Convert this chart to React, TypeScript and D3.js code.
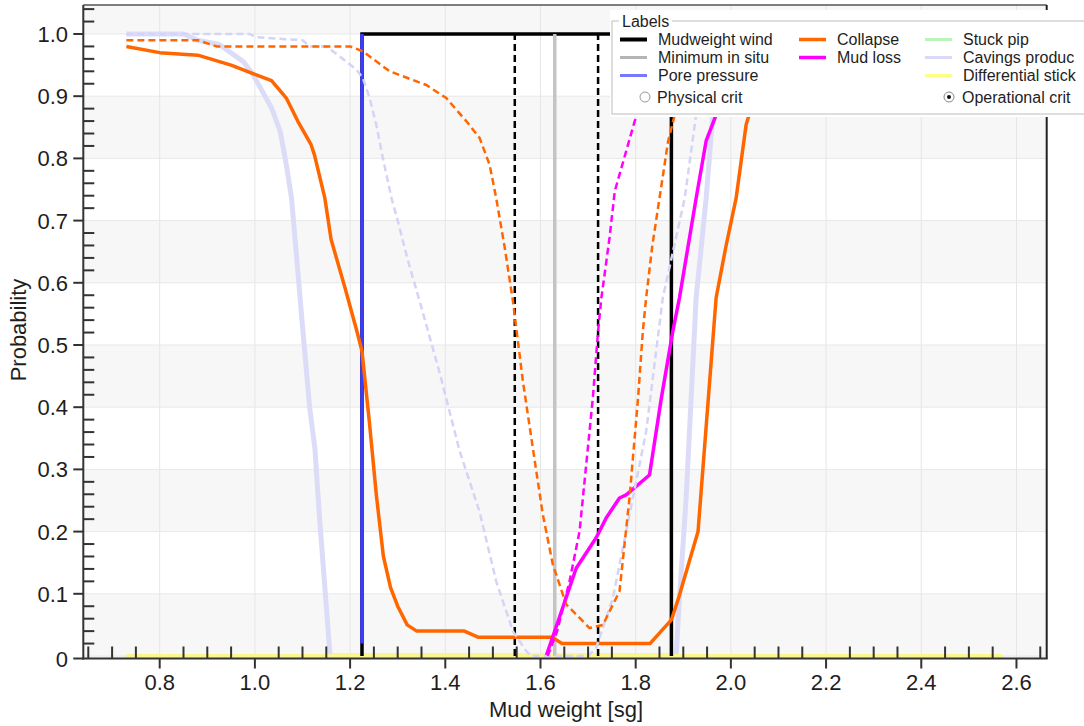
import React from "react";
import * as d3 from "d3";

const width = 1084;
const height = 726;
const font = "'Liberation Sans', Arial, sans-serif";

// axis ticks
const xMajorTicks = [0.8, 1.0, 1.2, 1.4, 1.6, 1.8, 2.0, 2.2, 2.4, 2.6];
const xTickLabels = ["0.8", "1.0", "1.2", "1.4", "1.6", "1.8", "2.0", "2.2", "2.4", "2.6"];
const yMajorTicks = [0, 0.1, 0.2, 0.3, 0.4, 0.5, 0.6, 0.7, 0.8, 0.9, 1.0];
const yTickLabels = ["0", "0.1", "0.2", "0.3", "0.4", "0.5", "0.6", "0.7", "0.8", "0.9", "1.0"];

// vertical markers (mud weight, sg)
const mudWindow = [1.225, 1.875];
const mudWindowPhysical = [1.546, 1.721];
const minInSitu = 1.63;
const porePressure = 1.225;

// operational criteria (solid)
const collapseOp: [number, number][] = [
  [0.73, 0.98], [0.8, 0.97], [0.88, 0.966], [0.95, 0.95], [1.0, 0.935], [1.035, 0.925],
  [1.066, 0.897], [1.09, 0.86], [1.118, 0.822], [1.125, 0.806], [1.147, 0.736], [1.16, 0.67],
  [1.19, 0.59], [1.215, 0.52], [1.225, 0.49], [1.24, 0.38], [1.255, 0.26], [1.27, 0.16],
  [1.285, 0.11], [1.3, 0.08], [1.32, 0.05], [1.34, 0.04], [1.44, 0.04], [1.47, 0.03],
  [1.625, 0.03], [1.645, 0.02], [1.83, 0.02], [1.875, 0.058], [1.89, 0.093], [1.931, 0.2],
  [1.969, 0.576], [1.99, 0.66], [2.011, 0.736], [2.032, 0.854], [2.05, 0.9], [2.1, 0.97],
  [2.2, 0.995], [2.57, 1.0],
];
const mudLossOp: [number, number][] = [
  [1.612, 0], [1.675, 0.141], [1.717, 0.19], [1.738, 0.222], [1.766, 0.254], [1.78, 0.259],
  [1.829, 0.291], [1.854, 0.415], [1.878, 0.522], [1.892, 0.576], [1.927, 0.736],
  [1.948, 0.828], [1.969, 0.87], [2.03, 0.97], [2.1, 1.0], [2.57, 1.0],
];
const cavingsOp: [number, number][] = [
  [0.73, 1.0], [0.85, 1.0], [0.88, 0.99], [0.925, 0.983], [0.975, 0.956], [0.995, 0.936],
  [1.035, 0.881], [1.053, 0.844], [1.066, 0.79], [1.077, 0.736], [1.086, 0.656], [1.1, 0.53],
  [1.115, 0.4], [1.126, 0.334], [1.136, 0.22], [1.147, 0.11], [1.155, 0.03], [1.158, 0],
  [1.885, 0], [1.892, 0.093], [1.906, 0.254], [1.92, 0.468], [1.927, 0.576], [1.948, 0.736],
  [1.962, 0.87], [2.0, 0.97], [2.1, 1.0], [2.57, 1.0],
];
const stuckPipe: [number, number][] = [[0.73, 0], [2.57, 0]];
const differentialStick: [number, number][] = [[0.73, 0], [2.57, 0]];

// physical criteria (dashed)
const collapsePhys: [number, number][] = [
  [0.73, 0.99], [0.88, 0.99], [0.92, 0.98], [1.2, 0.98], [1.227, 0.972], [1.283, 0.94],
  [1.36, 0.918], [1.402, 0.897], [1.444, 0.86], [1.472, 0.833], [1.493, 0.79], [1.507, 0.736],
  [1.525, 0.656], [1.542, 0.571], [1.563, 0.442], [1.584, 0.334], [1.605, 0.227],
  [1.626, 0.147], [1.654, 0.083], [1.703, 0.045], [1.731, 0.05], [1.766, 0.104],
  [1.787, 0.254], [1.805, 0.415], [1.815, 0.522], [1.822, 0.576], [1.835, 0.66],
  [1.85, 0.736], [1.868, 0.827], [1.882, 0.87], [1.92, 0.96], [2.0, 1.0], [2.57, 1.0],
];
const mudLossPhys: [number, number][] = [
  [1.615, 0], [1.635, 0.04], [1.661, 0.12], [1.682, 0.2], [1.696, 0.307], [1.71, 0.415],
  [1.721, 0.522], [1.728, 0.576], [1.745, 0.672], [1.756, 0.747], [1.798, 0.86],
  [1.85, 0.95], [1.95, 1.0], [2.57, 1.0],
];
const cavingsPhys: [number, number][] = [
  [0.73, 1.0], [0.99, 1.0], [1.0, 0.995], [1.1, 0.99], [1.115, 0.98], [1.15, 0.98],
  [1.178, 0.964], [1.213, 0.943], [1.227, 0.929], [1.241, 0.897], [1.255, 0.854],
  [1.269, 0.8], [1.287, 0.736], [1.3, 0.7], [1.32, 0.64], [1.35, 0.56], [1.39, 0.45],
  [1.43, 0.33], [1.472, 0.232], [1.507, 0.12], [1.542, 0.04], [1.57, 0.008], [1.58, 0],
  [1.7, 0], [1.717, 0.013], [1.752, 0.093], [1.787, 0.227], [1.822, 0.361], [1.857, 0.576],
  [1.903, 0.736], [1.927, 0.87], [1.96, 0.96], [2.0, 1.0], [2.57, 1.0],
];

const legendRows = [
  { label: "Mudweight wind", color: "#000000", w: 4, col: 0, row: 0 },
  { label: "Minimum in situ", color: "#b4b4b4", w: 3, col: 0, row: 1 },
  { label: "Pore pressure", color: "#7878ff", w: 3, col: 0, row: 2 },
  { label: "Collapse", color: "#ff6a00", w: 3.5, col: 1, row: 0 },
  { label: "Mud loss", color: "#ff00ff", w: 3.5, col: 1, row: 1 },
  { label: "Stuck pip", color: "#b8f5b8", w: 3, col: 2, row: 0 },
  { label: "Cavings produc", color: "#dadaf7", w: 3, col: 2, row: 1 },
  { label: "Differential stick", color: "#ffff80", w: 3, col: 2, row: 2 },
];
const legendColX = [620, 799, 925];

const x = d3.scaleLinear().domain([0.6395, 2.6635]).range([83.3, 1046.7]);
const y = d3.scaleLinear().domain([0, 1.0466]).range([656, 5]);
const axisY = 658.5;

const line = d3
  .line<[number, number]>()
  .x((d) => x(d[0]))
  .y((d) => y(d[1]));

const xMinorTicks = d3
  .range(13, 54)
  .map((i) => i * 0.05)
  .filter((v) => !xMajorTicks.some((m) => Math.abs(m - v) < 1e-6) && v < 2.663);
const yMinorTicks = d3
  .range(1, 53)
  .map((i) => i * 0.02)
  .filter((v) => !yMajorTicks.some((m) => Math.abs(m - v) < 1e-6));
const bands = d3.range(0, 11).map((i) => [i * 0.1, Math.min((i + 1) * 0.1, 1.0466)]);

const dash = "7,4";

const App = () => {
  const [x0, x1] = x.range();
  const y1 = y.range()[1];
  return (
    <svg
      width={width}
      height={height}
      style={{ position: "absolute", left: 0, top: 0, background: "#fff" }}
      fontFamily={font}
    >
      {bands.map(([a, b], i) => (
        <rect
          key={i}
          x={x0}
          y={y(b)}
          width={x1 - x0}
          height={(i === 0 ? axisY : y(a)) - y(b)}
          fill={i % 2 === 0 ? "#f7f7f7" : "#ffffff"}
        />
      ))}
      {xMajorTicks.map((t) => (
        <line key={t} x1={x(t)} x2={x(t)} y1={y1} y2={axisY} stroke="#e6e6e6" strokeWidth={1} />
      ))}
      {yMajorTicks.map((t) => (
        <line key={t} x1={x0} x2={x1} y1={y(t)} y2={y(t)} stroke="#e8e8e8" strokeWidth={1} />
      ))}

      {/* operational curves */}
      <path d={line(stuckPipe)!} fill="none" stroke="#b8f5b8" strokeWidth={4} />
      <path d={line(cavingsOp)!} fill="none" stroke="#dcdcf8" strokeWidth={5} strokeLinejoin="round" />
      <path d={line(differentialStick)!} fill="none" stroke="#fbf78c" strokeWidth={4} />

      {/* markers */}
      <path
        d={line([[mudWindow[0], 0], [mudWindow[0], 1], [mudWindow[1], 1], [mudWindow[1], 0]])!}
        fill="none"
        stroke="#000"
        strokeWidth={3.5}
      />
      <line x1={x(minInSitu)} x2={x(minInSitu)} y1={y(0)} y2={y(1)} stroke="#c4c4c4" strokeWidth={3.5} />
      <line x1={x(porePressure)} x2={x(porePressure)} y1={y(0.02)} y2={y(1)} stroke="#3c3cff" strokeWidth={3.5} />
      {mudWindowPhysical.map((v) => (
        <line key={v} x1={x(v)} x2={x(v)} y1={y(0)} y2={y(1)} stroke="#000" strokeWidth={2.5} strokeDasharray="7,4" />
      ))}

      <path d={line(collapseOp)!} fill="none" stroke="#ff6600" strokeWidth={3.5} strokeLinejoin="round" />
      <path d={line(mudLossOp)!} fill="none" stroke="#ff00ff" strokeWidth={3.5} strokeLinejoin="round" />

      {/* physical curves */}
      <path d={line(cavingsPhys)!} fill="none" stroke="#d4d4f6" strokeWidth={2.5} strokeDasharray={dash} />
      <path d={line(collapsePhys)!} fill="none" stroke="#ff6600" strokeWidth={2.5} strokeDasharray={dash} />
      <path d={line(mudLossPhys)!} fill="none" stroke="#ff00ff" strokeWidth={2.5} strokeDasharray={dash} />

      {/* frame */}
      <line x1={x0} x2={x1} y1={y1} y2={y1} stroke="#555" strokeWidth={1.5} />
      <line x1={x1} x2={x1} y1={y1} y2={axisY} stroke="#222" strokeWidth={2} />
      <line x1={x0} x2={x0} y1={y1} y2={axisY + 1} stroke="#333" strokeWidth={2} />
      <line x1={x0 - 1} x2={x1 + 1} y1={axisY} y2={axisY} stroke="#333" strokeWidth={2} />

      {/* x axis */}
      {xMajorTicks.map((t, i) => (
        <g key={t}>
          <line x1={x(t)} x2={x(t)} y1={axisY} y2={axisY + 10} stroke="#333" strokeWidth={2} />
          <text x={x(t)} y={690} textAnchor="middle" fontSize={22} fill="#1e1e1e">
            {xTickLabels[i]}
          </text>
        </g>
      ))}
      {xMinorTicks.map((t) => (
        <line key={t} x1={x(t)} x2={x(t)} y1={axisY} y2={axisY - 12} stroke="#333" strokeWidth={2} />
      ))}
      <text x={566} y={717} textAnchor="middle" fontSize={22} fill="#1e1e1e">
        Mud weight [sg]
      </text>

      {/* y axis */}
      {yMajorTicks.map((t, i) => (
        <g key={t}>
          <line x1={x0 - 10} x2={x0} y1={i === 0 ? axisY : y(t)} y2={i === 0 ? axisY : y(t)} stroke="#333" strokeWidth={2} />
          <text x={68} y={(i === 0 ? axisY : y(t)) + 8} textAnchor="end" fontSize={22} fill="#1e1e1e">
            {yTickLabels[i]}
          </text>
        </g>
      ))}
      {yMinorTicks.map((t) => (
        <line key={t} x1={x0} x2={x0 + 11} y1={y(t)} y2={y(t)} stroke="#333" strokeWidth={2} />
      ))}
      <text
        transform="translate(26, 330) rotate(-90)"
        textAnchor="middle"
        fontSize={22}
        fill="#1e1e1e"
      >
        Probability
      </text>

      {/* legend */}
      <rect x={610} y={10} width={480} height={107} fill="#fff" />
      <rect x={612} y={21} width={480} height={93} fill="none" stroke="#bdbdbd" strokeWidth={1} />
      <rect x={619} y={15} width={53} height={12} fill="#fff" />
      <text x={622} y={27} fontSize={16} fill="#1e1e1e">
        Labels
      </text>
      {legendRows.map((r) => {
        const lx = legendColX[r.col];
        const ly = 39.5 + r.row * 18;
        return (
          <g key={r.label}>
            <line x1={lx} x2={lx + 27} y1={ly} y2={ly} stroke={r.color} strokeWidth={r.w} />
            <text x={lx + 38} y={ly + 5} fontSize={16} fill="#1e1e1e">
              {r.label}
            </text>
          </g>
        );
      })}
      <circle cx={645} cy={97} r={5} fill="#fff" stroke="#999" strokeWidth={1} />
      <text x={657} y={103} fontSize={16} fill="#1e1e1e">
        Physical crit
      </text>
      <circle cx={949} cy={97} r={5} fill="#fff" stroke="#888" strokeWidth={1} />
      <circle cx={949} cy={97} r={2} fill="#111" />
      <text x={962} y={103} fontSize={16} fill="#1e1e1e">
        Operational crit
      </text>
    </svg>
  );
};

export default App;
